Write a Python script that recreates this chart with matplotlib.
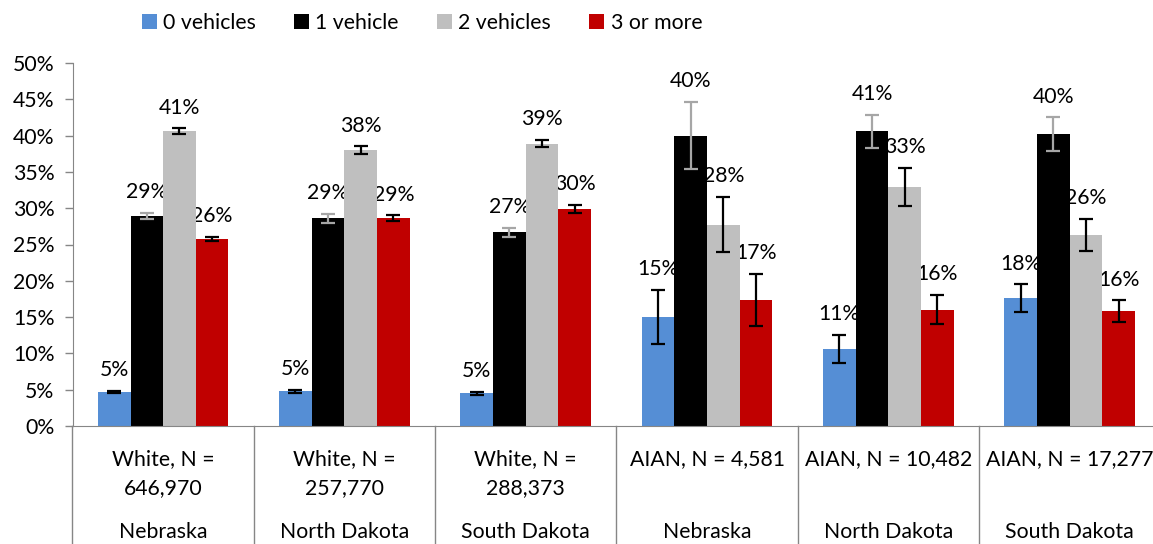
import numpy as np
import matplotlib.pyplot as plt
from matplotlib import transforms

plt.rcParams['font.family'] = ['Lato', 'DejaVu Sans']

# category labels (two levels)
groups = ['White, N =\n646,970', 'White, N =\n257,770', 'White, N =\n288,373',
          'AIAN, N = 4,581', 'AIAN, N = 10,482', 'AIAN, N = 17,277']
states = ['Nebraska', 'North Dakota', 'South Dakota',
          'Nebraska', 'North Dakota', 'South Dakota']
series = ['0 vehicles', '1 vehicle', '2 vehicles', '3 or more']

# share of households (%)
zero_veh = [4.7, 4.8, 4.5, 15.0, 10.6, 17.6]
one_veh = [28.9, 28.6, 26.7, 40.0, 40.6, 40.2]
two_veh = [40.6, 38.0, 38.9, 27.7, 32.9, 26.3]
three_veh = [25.8, 28.6, 29.9, 17.4, 16.0, 15.8]

# error bar half-widths (%)
zero_err = [0.1, 0.2, 0.2, 3.7, 1.9, 1.9]
one_err = [0.4, 0.6, 0.6, 4.6, 2.3, 2.3]
two_err = [0.4, 0.5, 0.5, 3.8, 2.6, 2.2]
three_err = [0.3, 0.4, 0.5, 3.6, 2.0, 1.5]

colors = ['#558ED5', '#000000', '#BFBFBF', '#C00000']
err_colors = ['#000000', '#A6A6A6', '#000000', '#000000']
axis_grey = '#868686'
fs = 15.3

W, H = 1153, 544
fig = plt.figure(figsize=(W / 100, H / 100), dpi=100)
ax = fig.add_axes([72.5 / W, 1 - 426 / H, 6 * 181.3 / W, 363 / H])

x = np.arange(len(groups))
w = 0.18
values = [zero_veh, one_veh, two_veh, three_veh]
errors = [zero_err, one_err, two_err, three_err]

for i, (name, vals, errs) in enumerate(zip(series, values, errors)):
    pos = x + (i - 1.5) * w
    ax.bar(pos, vals, w, color=colors[i], label=name, zorder=2)
    ax.errorbar(pos, vals, yerr=errs, fmt='none', ecolor=err_colors[i],
                elinewidth=1.6, capsize=5, capthick=1.6, zorder=3)
    for xp, v, e in zip(pos, vals, errs):
        ax.annotate('{}%'.format(int(v + 0.5)), (xp, v + e), xytext=(0, 15),
                    textcoords='offset points', ha='center', va='center',
                    fontsize=fs, zorder=1)

ax.set_xlim(-0.5, 5.5)
ax.set_ylim(0, 50)
ax.set_yticks(range(0, 51, 5))
ax.set_yticklabels(['{}%'.format(t) for t in range(0, 51, 5)])
ax.set_xticks([])
ax.tick_params(axis='y', length=6, color=axis_grey, width=1, pad=7, labelsize=fs)
for s in ['top', 'right']:
    ax.spines[s].set_visible(False)
for s in ['left', 'bottom']:
    ax.spines[s].set_color(axis_grey)

# multi-level category axis
trans = transforms.blended_transform_factory(ax.transData, ax.transAxes)
for b in np.arange(-0.5, len(groups), 1):
    ax.plot([b, b], [0, -130 / 363], color=axis_grey, lw=1,
            transform=trans, clip_on=False)
for xi, g, st in zip(x, groups, states):
    ax.text(xi, -23 / 363, g, transform=trans, ha='center', va='top',
            fontsize=fs, linespacing=1.55)
    ax.text(xi, -106 / 363, st, transform=trans, ha='center', va='center',
            fontsize=fs)

fig.legend(loc='center', bbox_to_anchor=(422 / W, 1 - 23 / H), ncol=4,
           frameon=False, fontsize=fs, handlelength=0.7, handleheight=0.7,
           handletextpad=0.3, columnspacing=1.8)

fig.savefig('out.png', dpi=100)
